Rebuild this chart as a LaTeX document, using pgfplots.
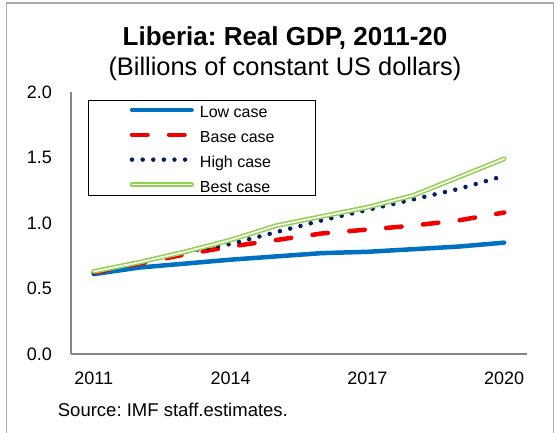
\documentclass[border=0pt]{standalone}
\usepackage{fontspec}
\setmainfont{Liberation Sans}
\usepackage{pgfplots}
\pgfplotsset{compat=1.18}
\definecolor{lowblue}{RGB}{0,112,192}
\definecolor{basered}{RGB}{240,0,0}
\definecolor{highnavy}{RGB}{0,32,96}
\definecolor{bestgreen}{RGB}{146,208,80}
\definecolor{axgray}{RGB}{134,134,134}
\definecolor{framegray}{RGB}{170,170,170}
\frenchspacing
\begin{document}
\begin{tikzpicture}
\useasboundingbox (0bp,0bp) rectangle (557bp,433bp);
\draw[framegray, line width=1.2bp] (6.5bp,0bp) -- (6.5bp,430bp) -- (553.5bp,430bp) -- (553.5bp,0bp);
\begin{axis}[
  at={(71bp,79bp)}, anchor=south west,
  scale only axis, width=456bp, height=262bp,
  xmin=2010.5, xmax=2020.5, ymin=0, ymax=2,
  axis lines*=left,
  axis line style={draw=axgray, line width=1.6bp},
  xtick={2011,2014,2017,2020},
  xticklabels={2011,2014,2017,2020},
  ytick={0,0.5,1,1.5,2},
  yticklabel={\pgfmathprintnumber[fixed,fixed zerofill,precision=1,assume math mode=true]{\tick}},
  major tick length=0pt,
  tick label style={font=\fontsize{18bp}{21bp}\selectfont},
  xticklabel style={anchor=base, inner sep=0pt, yshift=-30.5bp},
  yticklabel style={anchor=east, inner sep=0pt, xshift=-19bp},
  legend style={at={(0.0373,0.969)}, anchor=north west, draw=black, line width=1.3bp,
    inner xsep=41bp, inner ysep=1.5bp, row sep=7.3bp,
    font=\fontsize{16bp}{19bp}\selectfont,
    nodes={inner sep=0pt, text height=15.5bp, text depth=2bp},
    /tikz/every odd column/.append style={column sep=6bp}},
  legend cell align=left,
  legend image code/.code={\draw[#1] (2.25bp,1bp) -- (61.75bp,1bp);},
]
\addplot[lowblue, line width=4.5bp, line cap=round, line join=round] coordinates {
 (2011,0.61) (2012,0.66) (2013,0.69) (2014,0.72) (2015,0.745) (2016,0.77) (2017,0.78) (2018,0.80) (2019,0.82) (2020,0.85)};
\addlegendentry{Low case}
\addplot[basered, line width=4.5bp, line cap=round, dash pattern=on 15.5bp off 21.5bp] coordinates {
 (2011,0.62) (2012,0.69) (2013,0.76) (2014,0.82) (2015,0.87) (2016,0.92) (2017,0.95) (2018,0.98) (2019,1.02) (2020,1.08)};
\addlegendentry{Base case}
\addplot[highnavy, line width=4.5bp, line cap=round, dash pattern=on 0bp off 10.6bp] coordinates {
 (2011,0.62) (2012,0.70) (2013,0.78) (2014,0.84) (2015,0.93) (2016,1.02) (2017,1.10) (2018,1.18) (2019,1.26) (2020,1.36)};
\addlegendentry{High case}
\addplot[bestgreen, line width=1.6bp, double=white, double distance=1.6bp, line cap=round, line join=round] coordinates {
 (2011,0.63) (2012,0.70) (2013,0.78) (2014,0.87) (2015,0.98) (2016,1.05) (2017,1.12) (2018,1.21) (2019,1.35) (2020,1.49)};
\addlegendentry{Best case}
\end{axis}
\node[anchor=base, inner sep=0pt, font=\fontsize{26bp}{30bp}\selectfont\bfseries] at (285bp,387bp) {Liberia: Real GDP, 2011-20};
\node[anchor=base, inner sep=0pt, font=\fontsize{25.4bp}{29bp}\selectfont] at (285bp,357.7bp) {(Billions of constant US dollars)};
\node[anchor=base west, inner sep=0pt, font=\fontsize{18.5bp}{21bp}\selectfont] at (57.7bp,16.5bp) {Source: IMF staff.estimates.};
\end{tikzpicture}
\end{document}
